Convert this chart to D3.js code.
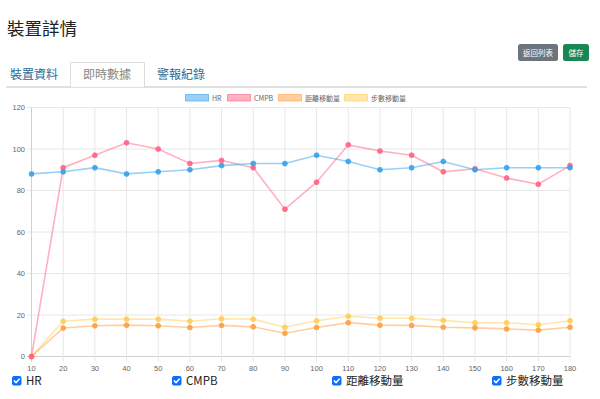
<!DOCTYPE html>
<html>
<head>
<meta charset="utf-8">
<script src="https://cdn.jsdelivr.net/npm/d3@7"></script>
<style>
  body { margin: 0; background: #fff; font-family: "Noto Sans CJK TC", "Noto Sans", sans-serif; }
  svg { display: block; }
</style>
</head>
<body>
<svg id="chart" width="600" height="399"></svg>
<script>
// chart data
const labels = [10, 20, 30, 40, 50, 60, 70, 80, 90, 100, 110, 120, 130, 140, 150, 160, 170, 180];
const hr       = [88, 89, 91, 88, 89, 90, 92, 93, 93, 97, 94, 90, 91, 94, 90, 91, 91, 91];
const cmpb     = [0, 91, 97, 103, 100, 93, 94.5, 91, 71, 84, 102, 99, 97, 89, 90.5, 86, 83, 92];
const distance = [0, 13.7, 14.8, 15.1, 14.8, 14, 15, 14.3, 11.2, 14, 16.3, 15.1, 15, 14.1, 13.8, 13.3, 12.7, 14.1];
const steps    = [0, 17, 18, 18, 18, 17, 18.2, 18, 14.1, 17.2, 19.4, 18.4, 18.4, 17.4, 16.3, 16.3, 15.3, 17.2];
const seriesNames = ["HR", "CMPB", "距離移動量", "步數移動量"];
const yTicks = [0, 20, 40, 60, 80, 100, 120];

const colors = ["rgb(54,162,235)", "rgb(255,99,132)", "rgb(255,159,64)", "rgb(255,205,86)"];
const series = [hr, cmpb, distance, steps].map((v, i) => ({ name: seriesNames[i], values: v, color: colors[i] }));

const svg = d3.select("#chart");

// page header
svg.append("text").attr("x", 7).attr("y", 35).attr("font-size", 17.5).attr("fill", "#222").text("裝置詳情");

const buttons = [
  { label: "返回列表", x: 518, w: 40, fill: "#6c757d" },
  { label: "儲存", x: 563, w: 26, fill: "#198754" }
];
buttons.forEach(b => {
  svg.append("rect").attr("x", b.x).attr("y", 44).attr("width", b.w).attr("height", 17).attr("rx", 2.5).attr("fill", b.fill);
  svg.append("text").attr("x", b.x + b.w / 2).attr("y", 55.5).attr("text-anchor", "middle")
    .attr("font-size", 7.5).attr("fill", "#fff").text(b.label);
});

// tabs
svg.append("line").attr("x1", 6).attr("x2", 587).attr("y1", 87).attr("y2", 87).attr("stroke", "#d6d6d6").attr("stroke-width", 1.5);
svg.append("path").attr("d", "M70.5,87 V62.5 H144.5 V87").attr("fill", "#fff").attr("stroke", "#ddd");
svg.append("text").attr("x", 10).attr("y", 78.5).attr("font-size", 12).attr("fill", "#2c6a96").text("裝置資料");
svg.append("text").attr("x", 83).attr("y", 78.5).attr("font-size", 12).attr("fill", "#888").text("即時數據");
svg.append("text").attr("x", 157).attr("y", 78.5).attr("font-size", 12).attr("fill", "#2c6a96").text("警報紀錄");

// chart area
const plotLeft = 31.5, plotRight = 570, plotTop = 107.5, plotBottom = 356.5;
const x = d3.scalePoint().domain(labels).range([plotLeft, plotRight]);
const y = d3.scaleLinear().domain([0, 120]).range([plotBottom, plotTop]);

const grid = svg.append("g");
grid.selectAll(".hg").data(yTicks).enter().append("line")
  .attr("x1", plotLeft - 5).attr("x2", plotRight).attr("y1", d => y(d)).attr("y2", d => y(d))
  .attr("stroke", d => d === 0 ? "#d0d0d0" : "#e8e8e8");
grid.selectAll(".vg").data(labels).enter().append("line")
  .attr("x1", d => x(d)).attr("x2", d => x(d)).attr("y1", plotTop).attr("y2", plotBottom + 5)
  .attr("stroke", (d, i) => i === 0 ? "#d0d0d0" : "#e8e8e8");

svg.append("g").selectAll("text").data(yTicks).enter().append("text")
  .attr("x", 25).attr("y", d => y(d) + 2.5).attr("text-anchor", "end")
  .attr("font-size", 7.5).attr("fill", "#666").attr("font-family", "Liberation Sans, Arial, sans-serif")
  .text(d => d);
svg.append("g").selectAll("text").data(labels).enter().append("text")
  .attr("x", d => x(d)).attr("y", 371).attr("text-anchor", "middle")
  .attr("font-size", 7.5).attr("fill", "#666").attr("font-family", "Liberation Sans, Arial, sans-serif")
  .text(d => d);

// lines and points, first dataset on top (drawn last)
const line = d3.line().x((d, i) => x(labels[i])).y(d => y(d));
series.slice().reverse().forEach(s => {
  const c = d3.color(s.color);
  svg.append("path").datum(s.values).attr("d", line).attr("fill", "none")
    .attr("stroke", c.copy({ opacity: 0.5 })).attr("stroke-width", 1.6);
  svg.append("g").selectAll("circle").data(s.values).enter().append("circle")
    .attr("cx", (d, i) => x(labels[i])).attr("cy", d => y(d)).attr("r", 2.5)
    .attr("fill", c.copy({ opacity: 0.9 })).attr("stroke", c.copy({ opacity: 0.6 })).attr("stroke-width", 1);
});

// legend
const legendX = [185, 227, 278, 344];
series.forEach((s, i) => {
  const c = d3.color(s.color);
  svg.append("rect").attr("x", legendX[i] + 0.5).attr("y", 94.5).attr("width", 23).attr("height", 6.5)
    .attr("fill", c.copy({ opacity: 0.5 })).attr("stroke", c.copy({ opacity: 0.6 }));
  svg.append("text").attr("x", legendX[i] + 27).attr("y", 100.5).attr("font-size", 7).attr("fill", "#666").text(s.name);
});

// checkboxes below chart
const checkX = [12, 172, 332, 492];
series.forEach((s, i) => {
  const g = svg.append("g").attr("transform", `translate(${checkX[i]},376)`);
  g.append("rect").attr("width", 9.5).attr("height", 9.5).attr("rx", 2).attr("fill", "#0d6efd");
  g.append("path").attr("d", "M2.3,4.9 L4.1,6.7 L7.3,3").attr("fill", "none").attr("stroke", "#fff").attr("stroke-width", 1.5)
    .attr("stroke-linecap", "round").attr("stroke-linejoin", "round");
  g.append("text").attr("x", 14).attr("y", 8.8).attr("font-size", 11.5).attr("fill", "#222").text(s.name);
});
</script>
</body>
</html>
